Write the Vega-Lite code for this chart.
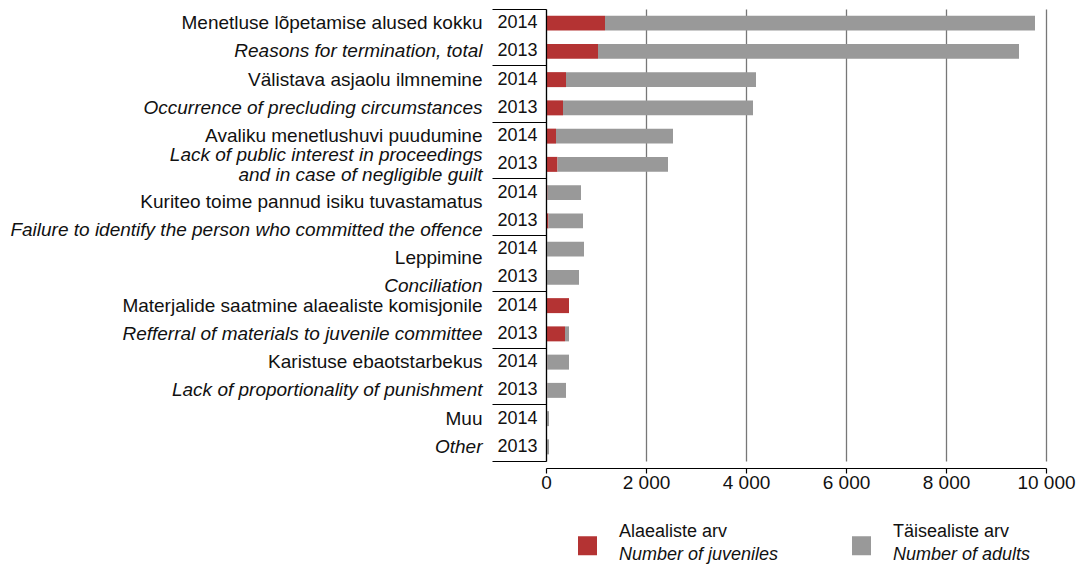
{
  "$schema": "https://vega.github.io/schema/vega-lite/v6.json",
  "width": 500,
  "height": 452,
  "autosize": {"type": "none"},
  "padding": {"left": 546, "top": 9, "right": 39, "bottom": 103},
  "config": {"font": "Liberation Sans", "view": {"stroke": null}},
  "data": {
    "values": [
      {"rida": "2014|Menetluse lõpetamise alused kokku", "tyyp": "Alaealiste arv", "type_en": "Number of juveniles", "arv": 1180},
      {"rida": "2014|Menetluse lõpetamise alused kokku", "tyyp": "Täisealiste arv", "type_en": "Number of adults", "arv": 8600},
      {"rida": "2013|Reasons for termination, total", "tyyp": "Alaealiste arv", "type_en": "Number of juveniles", "arv": 1040},
      {"rida": "2013|Reasons for termination, total", "tyyp": "Täisealiste arv", "type_en": "Number of adults", "arv": 8420},
      {"rida": "2014|Välistava asjaolu ilmnemine", "tyyp": "Alaealiste arv", "type_en": "Number of juveniles", "arv": 400},
      {"rida": "2014|Välistava asjaolu ilmnemine", "tyyp": "Täisealiste arv", "type_en": "Number of adults", "arv": 3800},
      {"rida": "2013|Occurrence of precluding circumstances", "tyyp": "Alaealiste arv", "type_en": "Number of juveniles", "arv": 340},
      {"rida": "2013|Occurrence of precluding circumstances", "tyyp": "Täisealiste arv", "type_en": "Number of adults", "arv": 3800},
      {"rida": "2014|Avaliku menetlushuvi puudumine", "tyyp": "Alaealiste arv", "type_en": "Number of juveniles", "arv": 200},
      {"rida": "2014|Avaliku menetlushuvi puudumine", "tyyp": "Täisealiste arv", "type_en": "Number of adults", "arv": 2340},
      {"rida": "2013|Lack of public interest in proceedings|and in case of negligible guilt", "tyyp": "Alaealiste arv", "type_en": "Number of juveniles", "arv": 230},
      {"rida": "2013|Lack of public interest in proceedings|and in case of negligible guilt", "tyyp": "Täisealiste arv", "type_en": "Number of adults", "arv": 2210},
      {"rida": "2014|Kuriteo toime pannud isiku tuvastamatus", "tyyp": "Alaealiste arv", "type_en": "Number of juveniles", "arv": 30},
      {"rida": "2014|Kuriteo toime pannud isiku tuvastamatus", "tyyp": "Täisealiste arv", "type_en": "Number of adults", "arv": 670},
      {"rida": "2013|Failure to identify the person who committed the offence", "tyyp": "Alaealiste arv", "type_en": "Number of juveniles", "arv": 50},
      {"rida": "2013|Failure to identify the person who committed the offence", "tyyp": "Täisealiste arv", "type_en": "Number of adults", "arv": 690},
      {"rida": "2014|Leppimine", "tyyp": "Alaealiste arv", "type_en": "Number of juveniles", "arv": 5},
      {"rida": "2014|Leppimine", "tyyp": "Täisealiste arv", "type_en": "Number of adults", "arv": 755},
      {"rida": "2013|Conciliation", "tyyp": "Alaealiste arv", "type_en": "Number of juveniles", "arv": 5},
      {"rida": "2013|Conciliation", "tyyp": "Täisealiste arv", "type_en": "Number of adults", "arv": 655},
      {"rida": "2014|Materjalide saatmine alaealiste komisjonile", "tyyp": "Alaealiste arv", "type_en": "Number of juveniles", "arv": 460},
      {"rida": "2014|Materjalide saatmine alaealiste komisjonile", "tyyp": "Täisealiste arv", "type_en": "Number of adults", "arv": 0},
      {"rida": "2013|Refferral of materials to juvenile committee", "tyyp": "Alaealiste arv", "type_en": "Number of juveniles", "arv": 380},
      {"rida": "2013|Refferral of materials to juvenile committee", "tyyp": "Täisealiste arv", "type_en": "Number of adults", "arv": 80},
      {"rida": "2014|Karistuse ebaotstarbekus", "tyyp": "Alaealiste arv", "type_en": "Number of juveniles", "arv": 25},
      {"rida": "2014|Karistuse ebaotstarbekus", "tyyp": "Täisealiste arv", "type_en": "Number of adults", "arv": 435},
      {"rida": "2013|Lack of proportionality of punishment", "tyyp": "Alaealiste arv", "type_en": "Number of juveniles", "arv": 25},
      {"rida": "2013|Lack of proportionality of punishment", "tyyp": "Täisealiste arv", "type_en": "Number of adults", "arv": 375},
      {"rida": "2014|Muu", "tyyp": "Alaealiste arv", "type_en": "Number of juveniles", "arv": 0},
      {"rida": "2014|Muu", "tyyp": "Täisealiste arv", "type_en": "Number of adults", "arv": 60},
      {"rida": "2013|Other", "tyyp": "Alaealiste arv", "type_en": "Number of juveniles", "arv": 0},
      {"rida": "2013|Other", "tyyp": "Täisealiste arv", "type_en": "Number of adults", "arv": 60}
    ]
  },
  "layer": [
    {
      "mark": {"type": "bar", "height": {"band": 0.53}},
      "encoding": {
        "y": {
          "field": "rida",
          "type": "nominal",
          "sort": null,
          "scale": {"paddingInner": 0, "paddingOuter": 0},
          "axis": {
            "title": null,
            "orient": "left",
            "zindex": 2,
            "domainColor": "#000000",
            "domainWidth": 1.2,
            "bandPosition": 1,
            "tickExtra": true,
            "tickSize": 54,
            "tickWidth": 1.2,
            "tickColor": {"condition": {"test": "isString(datum.value) && indexof(datum.value, '2014') == 0", "value": "transparent"}, "value": "#000000"},
            "labelExpr": "isString(datum.value) ? split(datum.value, '|')[0] : ''",
            "labelAlign": "center",
            "labelBaseline": "middle",
            "labelPadding": -25,
            "labelFontSize": 18,
            "labelColor": "#111111",
            "labelOverlap": false
          }
        },
        "x": {
          "field": "arv",
          "type": "quantitative",
          "stack": "zero",
          "scale": {"domain": [0, 10000], "nice": false},
          "axis": {
            "title": null,
            "values": [0, 2000, 4000, 6000, 8000, 10000],
            "offset": 7,
            "domainColor": "#000000",
            "domainWidth": 1.2,
            "tickColor": "#000000",
            "tickSize": 5,
            "tickWidth": 1.2,
            "grid": true,
            "gridColor": "#777777",
            "gridWidth": 1.3,
            "labelExpr": "replace(format(datum.value, ','), ',', ' ')",
            "labelFontSize": 19,
            "labelPadding": 0,
            "labelColor": "#111111",
            "labelFlush": false
          }
        },
        "color": {
          "field": "type_en",
          "type": "nominal",
          "scale": {"domain": ["Number of juveniles", "Number of adults"], "range": ["#b43333", "#999999"]},
          "legend": {
            "orient": "none",
            "legendX": 32,
            "legendY": 527,
            "direction": "horizontal",
            "title": null,
            "padding": 0,
            "symbolType": "square",
            "symbolSize": 361,
            "symbolStrokeWidth": 0,
            "labelOffset": 22,
            "labelFontSize": 18,
            "labelFontStyle": "italic",
            "labelBaseline": "top",
            "labelColor": "#111111",
            "labelLimit": 400,
            "columnPadding": 73
          }
        },
        "order": {"field": "tyyp", "sort": "ascending"}
      }
    },
    {
      "mark": {"type": "point", "opacity": 0},
      "encoding": {
        "y": {
          "field": "rida",
          "type": "nominal",
          "sort": null,
          "axis": {
            "title": null,
            "orient": "left",
            "offset": 64,
            "domain": false,
            "ticks": false,
            "labelPadding": 0,
            "labelExpr": "slice(split(datum.value, '|'), 1)",
            "labelAlign": "right",
            "labelFontSize": 19,
            "labelLineHeight": 20,
            "labelColor": "#111111",
            "labelLimit": 1000,
            "labelOverlap": false,
            "labelFontStyle": {"condition": {"test": "indexof(datum.value, '2013') == 0", "value": "italic"}, "value": "normal"},
            "labelBaseline": {"condition": {"test": "indexof(datum.value, 'Kuriteo') >= 0 || indexof(datum.value, 'Failure') >= 0 || indexof(datum.value, 'Leppimine') >= 0 || indexof(datum.value, 'Conciliation') >= 0", "value": "top"}, "value": "middle"},
            "labelOffset": {"condition": {"test": "indexof(datum.value, 'Lack of public') >= 0", "value": -9}, "value": 0}
          }
        },
        "shape": {
          "field": "tyyp",
          "type": "nominal",
          "scale": {"domain": ["Alaealiste arv", "Täisealiste arv"]},
          "legend": {
            "orient": "none",
            "legendX": 32,
            "legendY": 513.5,
            "direction": "horizontal",
            "title": null,
            "padding": 0,
            "symbolSize": 361,
            "symbolOpacity": 0,
            "symbolStrokeWidth": 0,
            "labelOffset": 22,
            "labelFontSize": 18,
            "labelColor": "#111111",
            "labelLimit": 400,
            "columnPadding": 124
          }
        }
      }
    }
  ],
  "resolve": {"axis": {"y": "independent"}}
}
